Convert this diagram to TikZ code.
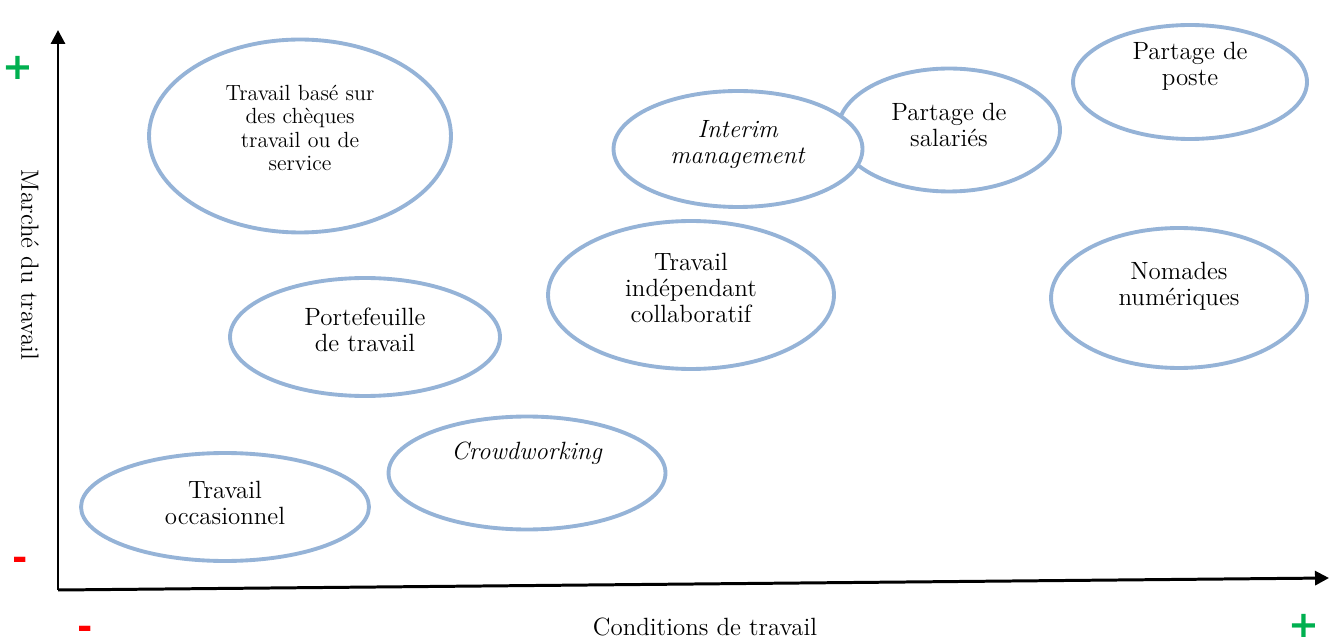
\documentclass[tikz,border=0pt]{standalone}
\usepackage{fontspec}
\newfontfamily\signfont{DejaVu Sans}
\usetikzlibrary{shapes.geometric,arrows.meta}
\definecolor{bubbleblue}{RGB}{149,179,215}
\definecolor{plusgreen}{RGB}{0,176,80}
\definecolor{minusred}{RGB}{255,0,0}
\tikzset{
  bubble/.style={ellipse, draw=bubbleblue, line width=2.2pt, fill=white, inner sep=0pt},
  txt/.style={align=center, font=\fontsize{14.2}{14.8}\selectfont},
  smalltxt/.style={align=center, font=\fontsize{12.5}{13.4}\selectfont},
  sign/.style={font=\signfont\fontsize{21}{22}\selectfont\bfseries, inner sep=0pt},
  axis/.style={line width=1.7pt, -{Triangle[length=0.28cm,width=0.28cm]}}
}
\begin{document}
\begin{tikzpicture}[x=0.02cm,y=-0.02cm]
  \useasboundingbox (0,0) rectangle (1337,641);
  % axes
  \coordinate (O) at (58,590);
  \coordinate (ytip) at (58,30);
  \coordinate (xtip) at (1329,578);
  \draw[axis] (O) -- (ytip);
  \draw[axis] (O) -- (xtip);
  \node[txt, rotate=-90] (ylab) at (30,265) {Marché du travail};
  \node[txt] (xlab) at (705,627) {Conditions de travail};
  \node[sign, text=plusgreen] (yplus) at (18,68) {+};
  \node[sign, text=minusred] (yminus) at (20,564) {-};
  \node[sign, text=minusred] (xminus) at (85,633) {-};
  \node[sign, text=plusgreen] (xplus) at (1304,626) {+};
  % bubbles
  \node[bubble, minimum width=6.04cm, minimum height=3.86cm] (cheques) at (300,136) {};
  \node[smalltxt] at (300,128) {Travail basé sur\\des chèques\\travail ou de\\service};
  \node[bubble, minimum width=5.4cm, minimum height=2.36cm] (portef) at (365,337) {};
  \node[txt] at (365,330) {Portefeuille\\de travail};
  \node[bubble, minimum width=5.76cm, minimum height=2.16cm] (occas) at (225,507) {};
  \node[txt] at (225,503) {Travail\\occasionnel};
  \node[bubble, minimum width=5.54cm, minimum height=2.26cm] (crowd) at (527,473) {};
  \node[txt] at (527,453) {\textit{Crowdworking}};
  \node[bubble, minimum width=5.72cm, minimum height=2.96cm] (indep) at (691,295) {};
  \node[txt] at (691,288) {Travail\\indépendant\\collaboratif};
  \node[bubble, minimum width=4.44cm, minimum height=2.46cm] (salaries) at (949,130) {};
  \node[txt] at (949,125) {Partage de\\salariés};
  \node[bubble, minimum width=4.98cm, minimum height=2.32cm] (interim) at (738,149) {};
  \node[txt] at (738,145) {\textit{Interim}\\\textit{management}};
  \node[bubble, minimum width=4.68cm, minimum height=2.28cm] (poste) at (1190,82) {};
  \node[txt] at (1190,66) {Partage de\\poste};
  \node[bubble, minimum width=5.12cm, minimum height=2.8cm] (nomades) at (1179,298) {};
  \node[txt] at (1179,286) {Nomades\\numériques};
\end{tikzpicture}
\end{document}
